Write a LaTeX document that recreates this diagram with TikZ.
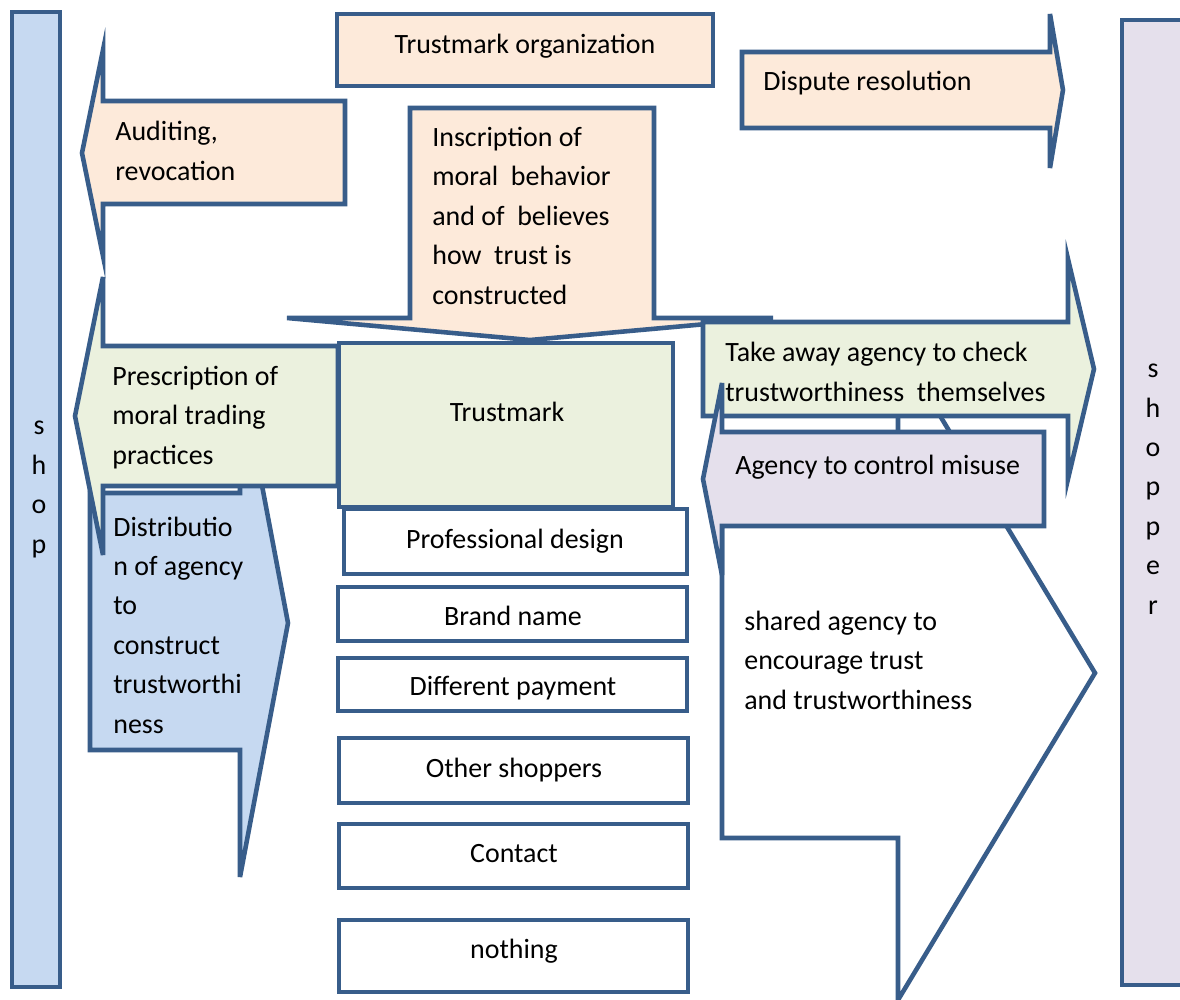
\documentclass[tikz,border=0pt]{standalone}
\usepackage{fontspec}
\setmainfont{Carlito}
\definecolor{edgeblue}{RGB}{56,93,138}
\definecolor{peachfill}{RGB}{253,234,218}
\definecolor{greenfill}{RGB}{235,241,222}
\definecolor{skyfill}{RGB}{198,217,241}
\definecolor{lilacfill}{RGB}{229,224,236}
\tikzset{
  outline/.style={draw=edgeblue, line width=2.6pt, line join=miter},
  peach/.style={outline, fill=peachfill},
  greenish/.style={outline, fill=greenfill},
  sky/.style={outline, fill=skyfill},
  lilac/.style={outline, fill=lilacfill},
  plain/.style={outline, fill=white},
  lefttext/.style={anchor=base west, align=left, inner sep=0pt, font=\fontsize{15.9}{22.4}\selectfont},
  midtext/.style={anchor=base, align=center, inner sep=0pt, font=\fontsize{15.9}{22.4}\selectfont}
}
\begin{document}
\begin{tikzpicture}[x=0.2mm, y=0.2mm]
\useasboundingbox (0,0) rectangle (1180,-1000);
\clip (0,0) rectangle (1180,-1000);
\fill [white] (0,0) rectangle (1180,-1000);
\draw [sky] (12,-12) rectangle (60,-987);
\draw [lilac] (1122,-20) rectangle (1200,-985);
\draw [peach] (337,-14) rectangle (713,-86);
\draw [peach] (742,-52) -- (1050,-52) -- (1050,-14) -- (1063,-90) -- (1050,-168) -- (1050,-128) -- (742,-128) -- cycle;
\draw [peach] (345,-101) -- (103,-101) -- (103,-50) -- (82,-153) -- (103,-256) -- (103,-204) -- (345,-204) -- cycle;
\draw [peach] (410,-108) -- (654,-108) -- (654,-318) -- (773,-318) -- (530,-340) -- (287,-318) -- (410,-318) -- cycle;
\draw [plain] (722,-480) -- (898,-480) -- (898,-346) -- (1095,-673) -- (898,-1000) -- (898,-838) -- (722,-838) -- cycle;
\draw [greenish] (703,-322) -- (1068,-322) -- (1068,-259) -- (1094,-369) -- (1068,-479) -- (1068,-416) -- (703,-416) -- cycle;
\draw [lilac] (1044,-432) -- (722,-432) -- (722,-383) -- (703,-479) -- (722,-575) -- (722,-526) -- (1044,-526) -- cycle;
\draw [sky] (90,-493) -- (240,-493) -- (240,-369) -- (288,-623) -- (240,-877) -- (240,-750) -- (90,-750) -- cycle;
\draw [greenish] (338,-346) -- (103,-346) -- (103,-277) -- (75,-416) -- (103,-555) -- (103,-486) -- (338,-486) -- cycle;
\draw [greenish] (339,-343) rectangle (673,-507);
\draw [plain] (344,-509) rectangle (687,-574);
\draw [plain] (338,-587) rectangle (687,-641);
\draw [plain] (338,-658) rectangle (687,-711);
\draw [plain] (339,-738) rectangle (688,-803);
\draw [plain] (339,-824) rectangle (688,-888);
\draw [plain] (339,-920) rectangle (688,-992);
\node (shop) [midtext] at (39,-553) {s\\h\\o\\p};
\node (shopper) [midtext] at (1153,-614) {s\\h\\o\\p\\p\\e\\r};
\node (org) [midtext] at (525,-53) {Trustmark organization};
\node (dispute) [lefttext] at (763,-91) {Dispute resolution};
\node (audit) [lefttext] at (115,-180) {Auditing,\\revocation};
\node (inscr) [lefttext] at (432,-304) {Inscription of\\moral\ \ behavior\\and of\ \ believes\\how\ \ trust is\\constructed};
\node (takeaway) [lefttext] at (725,-401) {Take away agency to check\\trustworthiness\ \ themselves};
\node (misuse) [lefttext] at (735,-474) {Agency to control misuse};
\node (shared) [lefttext] at (744,-709) {shared agency to\\encourage trust\\and trustworthiness};
\node (prescr) [lefttext] at (112,-464) {Prescription of\\moral trading\\practices};
\node (distr) [lefttext] at (113,-733) {Distributio\\n of agency\\to\\construct\\trustworthi\\ness};
\node (mark) [midtext] at (507,-421) {Trustmark};
\node (design) [midtext] at (515,-548) {Professional design};
\node (brand) [midtext] at (513,-625) {Brand name};
\node (payment) [midtext] at (513,-695) {Different payment};
\node (others) [midtext] at (514,-777) {Other shoppers};
\node (contact) [midtext] at (514,-862) {Contact};
\node (nothing) [midtext] at (514,-958) {nothing};
\end{tikzpicture}
\end{document}
